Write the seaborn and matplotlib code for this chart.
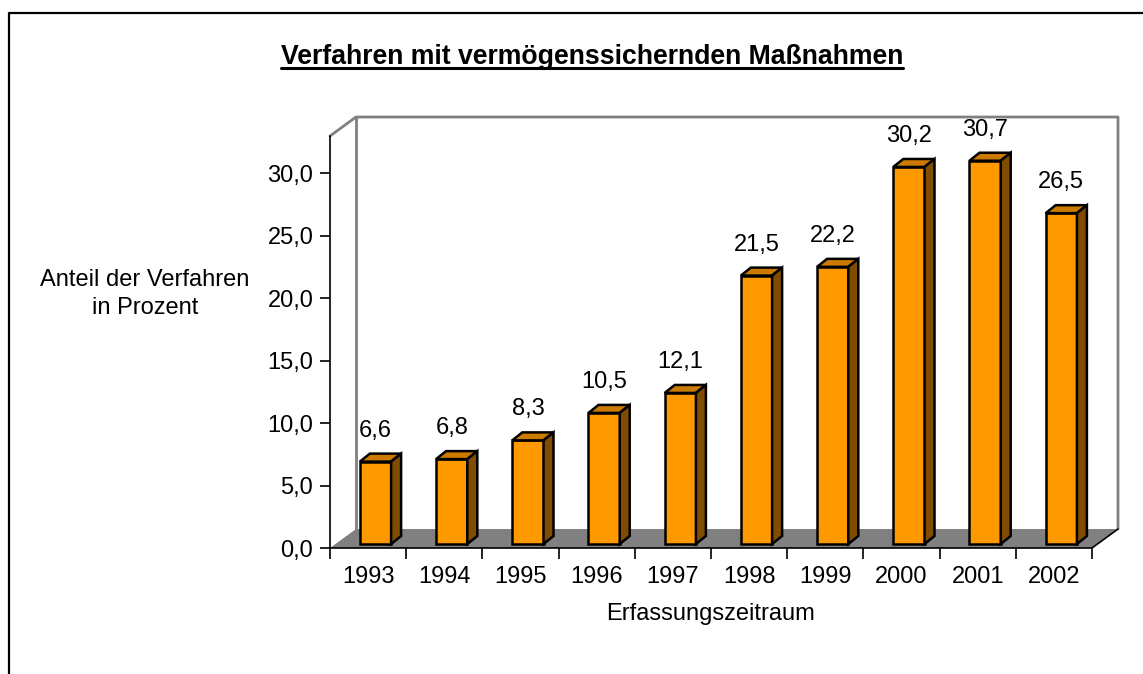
import matplotlib
matplotlib.use("Agg")
import matplotlib.pyplot as plt
from matplotlib.patches import Polygon
from matplotlib.lines import Line2D
import seaborn as sns

# data
years = ["1993", "1994", "1995", "1996", "1997", "1998", "1999", "2000", "2001", "2002"]
values = [6.6, 6.8, 8.3, 10.5, 12.1, 21.5, 22.2, 30.2, 30.7, 26.5]
value_labels = ["6,6", "6,8", "8,3", "10,5", "12,1", "21,5", "22,2", "30,2", "30,7", "26,5"]
y_ticks = [0, 5, 10, 15, 20, 25, 30]

sns.set_style("white")
plt.rcParams["font.family"] = ["Liberation Sans", "DejaVu Sans"]
plt.rcParams["text.color"] = "black"
plt.rcParams["xtick.color"] = "black"
plt.rcParams["ytick.color"] = "black"
plt.rcParams["axes.labelcolor"] = "black"
FS = 17

W, H = 1143, 674
fig = plt.figure(figsize=(W / 100, H / 100), dpi=100)
# front plane of the 3d chart
ax = fig.add_axes([330 / W, 1 - 548 / H, 762 / W, 412 / H])

front = "#FF9900"
top_c = "#CC7A00"
side_c = "#7F4C00"
gray = "#808080"

sns.barplot(x=years, y=values, color=front, width=0.41, saturation=1,
            edgecolor="black", linewidth=1.8, ax=ax, zorder=4)
ax.set_xlim(-0.5, 9.5)
ax.set_ylim(0, 33)

# depth offsets in data units (wall and bar)
DX, DY = 26 / 76.2, 19 / 12.5
BX, BY = 10 / 76.2, 8 / 12.5
BASE = 0.32
SHIFT = 0.097

# floor
floor = Polygon([(-0.5, 0), (9.5, 0), (9.5 + DX, DY), (-0.5 + DX, DY)],
                closed=True, facecolor=gray, edgecolor="none", zorder=1, clip_on=False)
ax.add_patch(floor)
# back wall edges
ax.add_line(Line2D([-0.5, -0.5 + DX, 9.5 + DX, 9.5 + DX], [33, 33 + DY, 33 + DY, DY],
                   color=gray, lw=2, zorder=2, clip_on=False))
ax.add_line(Line2D([-0.5 + DX, -0.5 + DX], [DY, 33 + DY], color=gray, lw=2, zorder=2, clip_on=False))
# front axes
ax.add_line(Line2D([-0.5, -0.5, 9.5, 9.5 + DX], [33, 0, 0, DY], color="black", lw=1.2,
                   zorder=5, clip_on=False))

# 3d bars: top and side faces
for p, lab in zip(ax.patches, value_labels):
    p.set_x(p.get_x() + SHIFT)
    p.set_y(BASE)
    x0, x1 = p.get_x(), p.get_x() + p.get_width()
    y1 = BASE + p.get_height()
    ax.add_patch(Polygon([(x0, y1), (x1, y1), (x1 + BX, y1 + BY), (x0 + BX, y1 + BY)],
                         closed=True, facecolor=top_c, edgecolor="black", lw=1.8,
                         zorder=4, clip_on=False))
    ax.add_patch(Polygon([(x1, BASE), (x1 + BX, BASE + BY), (x1 + BX, y1 + BY), (x1, y1)],
                         closed=True, facecolor=side_c, edgecolor="black", lw=1.8,
                         zorder=4, clip_on=False))
    ax.text((x0 + x1) / 2, y1 + 2.0, lab, ha="center", va="baseline", fontsize=FS, zorder=6)

for s in ax.spines.values():
    s.set_visible(False)

ax.set_yticks(y_ticks)
ax.set_yticklabels([f"{t:.1f}".replace(".", ",") for t in y_ticks], fontsize=FS)
ax.tick_params(axis="y", length=7, width=1.2, color="black", pad=5, left=True)
ax.set_xticks(range(len(years)))
ax.set_xticklabels(years, fontsize=FS)
ax.set_xticks([i - 0.5 for i in range(len(years) + 1)], minor=True)
ax.tick_params(axis="x", which="major", length=0, pad=13)
ax.tick_params(axis="x", which="minor", length=8, width=1.2, color="black", bottom=True)

ax.set_xlabel("Erfassungszeitraum", fontsize=FS, va="top")
ax.xaxis.set_label_coords(0.5, -0.133)
ax.set_ylabel("Anteil der Verfahren\nin Prozent", fontsize=FS, rotation=0,
              ha="center", va="center", linespacing=1.35)
ax.yaxis.set_label_coords((145 - 330) / 762, (548 - 294) / 412)

# title with underline
title = fig.text(592 / W, 1 - 64 / H, "Verfahren mit vermögenssichernden Maßnahmen",
                 ha="center", va="baseline", fontsize=19.2, fontweight="bold")
fig.canvas.draw()
bb = title.get_window_extent()
fig.add_artist(Line2D([bb.x0 / W, bb.x1 / W], [1 - 68 / H, 1 - 68 / H],
                      transform=fig.transFigure, color="black", lw=2.2))

# outer frame (left and top edge visible)
fig.add_artist(Line2D([9 / W, 9 / W, 1.0], [0.0, 1 - 13 / H, 1 - 13 / H],
                      transform=fig.transFigure, color="black", lw=1.6))

plt.savefig("out.png", dpi=100)
